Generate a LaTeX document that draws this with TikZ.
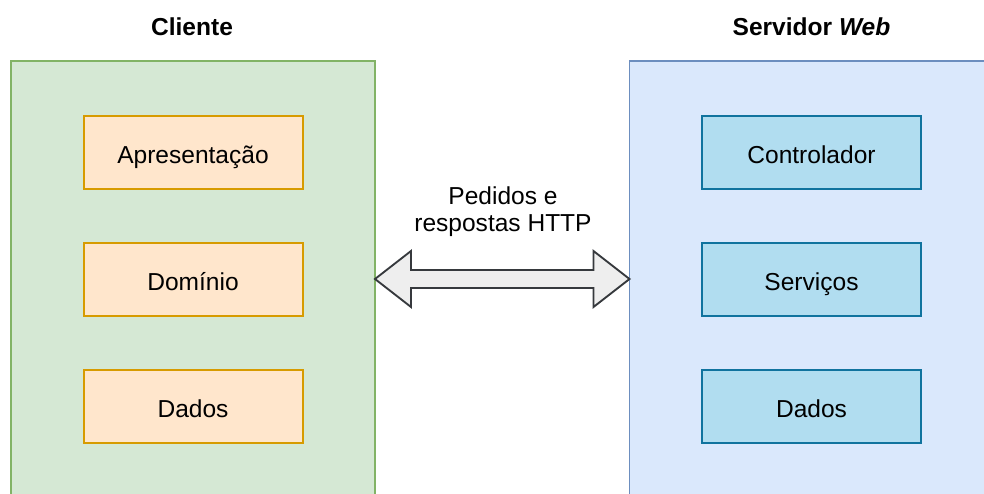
\documentclass[tikz,border=0pt]{standalone}
\usepackage{fontspec}
\setmainfont{Liberation Sans}
\usetikzlibrary{calc}
\definecolor{tierfill}{HTML}{D5E8D4}
\definecolor{tierline}{HTML}{82B366}
\definecolor{srvfill}{HTML}{DAE8FC}
\definecolor{srvline}{HTML}{6C8EBF}
\definecolor{layerfill}{HTML}{FFE6CC}
\definecolor{layerline}{HTML}{D79B00}
\definecolor{modfill}{HTML}{B1DDF0}
\definecolor{modline}{HTML}{10739E}
\definecolor{arrowfill}{HTML}{EEEEEE}
\definecolor{arrowline}{HTML}{36393D}
\begin{document}
\begin{tikzpicture}[x=0.75pt,y=-0.75pt,
  every node/.style={font=\fontsize{18.4}{20.3}\selectfont, inner sep=0pt, outer sep=0pt},
  container/.style={draw, line width=1.4pt, rectangle, anchor=north west},
  clientbox/.style={container, fill=tierfill, draw=tierline},
  serverbox/.style={container, fill=srvfill, draw=srvline},
  layer/.style={draw, line width=1.5pt, rectangle, minimum width=219*0.75pt, minimum height=73*0.75pt,
                text height=15.8pt, text depth=0pt},
  clientlayer/.style={layer, fill=layerfill, draw=layerline},
  serverlayer/.style={layer, fill=modfill, draw=modline},
  heading/.style={font=\fontsize{18.4}{20.3}\selectfont\bfseries},
  exchange/.style={draw=arrowline, fill=arrowfill, line width=1.4pt, line join=miter}
]
\useasboundingbox (0,0) rectangle (984,493);
\begin{scope}
\clip (0,0) rectangle (984,493);
% tier containers (they run past the lower and right edges)
\node[clientbox, minimum width=364*0.75pt, minimum height=460*0.75pt] (client) at (11,61) {};
\node[serverbox, minimum width=364*0.75pt, minimum height=460*0.75pt] (server) at (629.5,61) {};
\end{scope}

% headings
\node[heading] (clienttitle) at (192,27) {Cliente};
\node[heading] (servertitle) at (811.5,27) {Servidor \textit{Web}};

% client layers
\node[clientlayer] (apres) at (193,152.5) {Apresentação};
\node[clientlayer] (dominio) at (193,279.5) {Domínio};
\node[clientlayer] (cdados) at (193,406.5) {Dados};

% server layers
\node[serverlayer] (ctrl) at (811.5,152.5) {Controlador};
\node[serverlayer] (serv) at (811.5,279.5) {Serviços};
\node[serverlayer] (sdados) at (811.5,406.5) {Dados};

% request/response double arrow between the tiers
\coordinate (tipL) at (client.east |- 0,279);
\coordinate (tipR) at (server.west |- 0,279);
\draw[exchange] (tipL) -- ++(36,-28) -- ++(0,19) -- ($(tipR)+(-36,-9)$) -- ++(0,-19)
  -- (tipR) -- ++(-36,28) -- ++(0,-19) -- ($(tipL)+(36,9)$) -- ++(0,19) -- cycle;

\node[align=center] (httplabel) at (503,212) {Pedidos e\\respostas HTTP};
\end{tikzpicture}
\end{document}
